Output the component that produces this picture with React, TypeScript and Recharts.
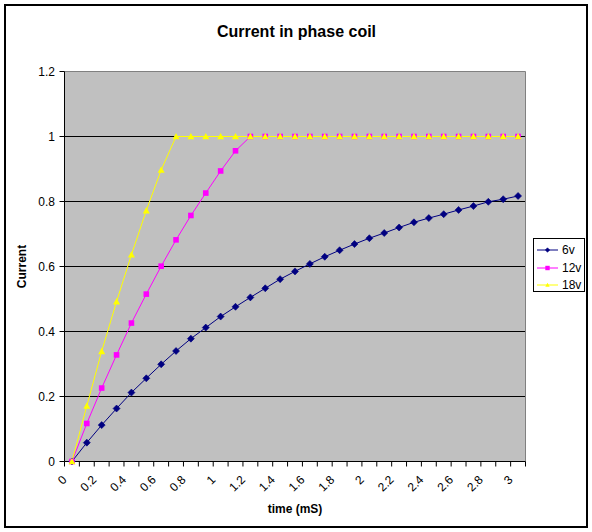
import React from 'react';
import { LineChart, Line, XAxis, YAxis, CartesianGrid, ReferenceLine, Legend } from 'recharts';

const FONT = "Arial, 'Liberation Sans', sans-serif";

const times = [0, 0.1, 0.2, 0.3, 0.4, 0.5, 0.6, 0.7, 0.8, 0.9, 1, 1.1, 1.2, 1.3, 1.4, 1.5, 1.6, 1.7, 1.8, 1.9, 2, 2.1, 2.2, 2.3, 2.4, 2.5, 2.6, 2.7, 2.8, 2.9, 3];
const current6v = [0, 0.058, 0.112, 0.163, 0.212, 0.256, 0.299, 0.34, 0.378, 0.412, 0.446, 0.476, 0.505, 0.533, 0.561, 0.585, 0.608, 0.63, 0.65, 0.669, 0.687, 0.703, 0.72, 0.736, 0.749, 0.761, 0.774, 0.786, 0.799, 0.807, 0.817];
const current12v = [0, 0.117, 0.226, 0.328, 0.426, 0.515, 0.601, 0.682, 0.757, 0.826, 0.894, 0.956, 1, 1, 1, 1, 1, 1, 1, 1, 1, 1, 1, 1, 1, 1, 1, 1, 1, 1, 1];
const current18v = [0, 0.171, 0.339, 0.492, 0.636, 0.772, 0.897, 1, 1, 1, 1, 1, 1, 1, 1, 1, 1, 1, 1, 1, 1, 1, 1, 1, 1, 1, 1, 1, 1, 1, 1];
const yTicks = [0, 0.2, 0.4, 0.6, 0.8, 1, 1.2];
const gridValues = [0.2, 0.4, 0.6, 0.8, 1];
const xDomain = [-0.05, 3.05];

const data = times.map((t, i) => ({ t, v6: current6v[i], v12: current12v[i], v18: current18v[i] }));

const Diamond = ({ cx, cy, fill, size = 3.5 }: any) => (
  <path d={`M${cx},${cy - size}L${cx + size},${cy}L${cx},${cy + size}L${cx - size},${cy}Z`} fill={fill} stroke={fill} strokeWidth={0.6} />
);
const Square = ({ cx, cy, fill, size = 2.8 }: any) => (
  <rect x={cx - size} y={cy - size} width={size * 2} height={size * 2} fill={fill} />
);
const Triangle = ({ cx, cy, fill, size = 3.5 }: any) => (
  <path d={`M${cx},${cy - size}L${cx + size},${cy + size * 0.8}L${cx - size},${cy + size * 0.8}Z`} fill={fill} />
);

const series = [
  { key: 'v6', name: '6v', color: '#000080', Marker: Diamond },
  { key: 'v12', name: '12v', color: '#FF00FF', Marker: Square },
  { key: 'v18', name: '18v', color: '#FFFF00', Marker: Triangle },
];

const XTick = (props: any) => {
  const { x, y, index, width, visibleTicksCount, payload } = props;
  const w = width / visibleTicksCount;
  const ax = x - 4.5;
  const ay = y + 14;
  return (
    <g>
      <line x1={x - w / 2} x2={x - w / 2} y1={y - 5} y2={y} stroke="#000" />
      {index === visibleTicksCount - 1 && <line x1={x + w / 2} x2={x + w / 2} y1={y - 5} y2={y} stroke="#000" />}
      {index % 2 === 0 && (
        <text x={ax} y={ay} textAnchor="end" transform={`rotate(-45 ${ax} ${ay})`} fontSize={12} fontFamily={FONT} fill="#000">
          {String(payload.value)}
        </text>
      )}
    </g>
  );
};

const LegendBox = (props: any) => {
  const payload = props.payload || [];
  return (
    <div style={{ width: 52, height: 54, boxSizing: 'border-box', border: '1px solid #000', background: '#fff', paddingTop: 2.5, fontFamily: FONT, fontSize: 12, color: '#000' }}>
      {series.map((s) => {
        const entry = payload.find((e: any) => e.dataKey === s.key) || { color: s.color, value: s.name };
        const M = s.Marker;
        return (
          <div key={s.key} style={{ height: 17.5, display: 'flex', alignItems: 'center' }}>
            <svg width={21} height={10} style={{ marginLeft: 2.7, display: 'block' }}>
              <line x1={0} x2={21} y1={5} y2={5} stroke={entry.color} />
              <M cx={10.5} cy={5} fill={entry.color} size={2.2} />
            </svg>
            <span style={{ marginLeft: 4.3, lineHeight: '12px' }}>{entry.value}</span>
          </div>
        );
      })}
    </div>
  );
};

export default function App() {
  return (
    <div style={{ position: 'absolute', left: 0, top: 0, width: 592, height: 532, background: '#fff' }}>
      <div style={{ position: 'absolute', left: 4, top: 4, width: 584, height: 524, boxSizing: 'border-box', border: '2px solid #000' }} />
      <div style={{ position: 'absolute', left: 0, top: 23.8, width: 593, textAlign: 'center', fontFamily: FONT, fontSize: 16, fontWeight: 'bold', lineHeight: '16px', color: '#000' }}>
        Current in phase coil
      </div>
      <LineChart width={592} height={532} data={data} margin={{ top: 71.5, right: 66.5, bottom: 0, left: 0 }} style={{ position: 'absolute', left: 0, top: 0 }}>
        <CartesianGrid horizontal vertical={false} stroke="#000" fill="#C0C0C0" horizontalValues={gridValues} />
        <XAxis
          dataKey="t"
          type="number"
          domain={xDomain}
          ticks={times}
          interval={0}
          height={70.5}
          axisLine={{ stroke: '#000' }}
          tickLine={false}
          tickSize={5}
          tickMargin={0}
          tick={<XTick />}
          label={{ value: 'time (mS)', position: 'insideBottom', offset: 19, style: { fontFamily: FONT, fontSize: 12, fontWeight: 'bold', fill: '#000' } }}
        />
        <YAxis
          type="number"
          domain={[0, 1.2]}
          ticks={yTicks}
          interval={0}
          width={64.5}
          axisLine={{ stroke: '#000' }}
          tickLine={{ stroke: '#000' }}
          tickSize={5}
          tickMargin={4.5}
          tick={{ fontFamily: FONT, fontSize: 12, fill: '#000' }}
          label={{ value: 'Current', angle: -90, position: 'insideLeft', offset: 22, style: { fontFamily: FONT, fontSize: 12, fontWeight: 'bold', fill: '#000', textAnchor: 'middle' } }}
        />
        <ReferenceLine y={1.2} stroke="#808080" ifOverflow="visible" />
        <ReferenceLine x={xDomain[1]} stroke="#808080" ifOverflow="visible" />
        {series.map((s) => (
          <Line
            key={s.key}
            type="linear"
            dataKey={s.key}
            name={s.name}
            stroke={s.color}
            strokeWidth={1}
            isAnimationActive={false}
            dot={(p: any) => <s.Marker key={`${s.key}-${p.index}`} cx={p.cx} cy={p.cy} fill={s.color} />}
            activeDot={false}
          />
        ))}
        <Legend layout="vertical" align="center" verticalAlign="middle" content={(p: any) => <LegendBox {...p} />} wrapperStyle={{ left: 533, top: 238, width: 52, height: 54 }} />
      </LineChart>
    </div>
  );
}
